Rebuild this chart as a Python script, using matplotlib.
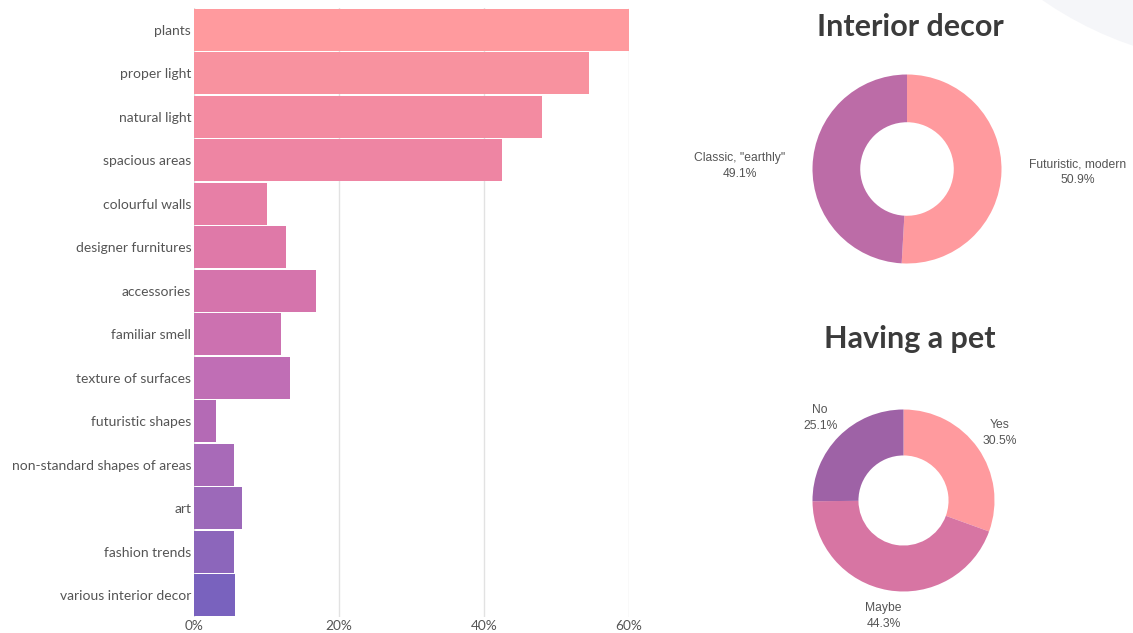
import matplotlib
matplotlib.use("Agg")
import matplotlib.pyplot as plt
import numpy as np
from matplotlib.patches import Ellipse

# ---------------- data ----------------
categories = ["plants", "proper light", "natural light", "spacious areas",
              "colourful walls", "designer furnitures", "accessories",
              "familiar smell", "texture of surfaces", "futuristic shapes",
              "non-standard shapes of areas", "art", "fashion trends",
              "various interior decor"]
values = [60.0, 54.5, 48.0, 42.5, 10.1, 12.7, 16.8, 12.0, 13.2, 3.0, 5.5, 6.6, 5.5, 5.7]
xticks = [0, 20, 40, 60]
xtick_labels = ["0%", "20%", "40%", "60%"]

decor_labels = ["Futuristic, modern", "Classic, \"earthly\""]
decor_values = [50.9, 49.1]

pet_labels = ["Yes", "Maybe", "No"]
pet_values = [30.5, 44.3, 25.1]

# ---------------- style ----------------
bar_colors = ["#FF9A9E", "#F8929F", "#F38BA1", "#EE85A3", "#E77FA6", "#DF79A8",
              "#D574AC", "#CC71B0", "#C06EB5", "#B46AB5", "#A86AB8", "#9C69B9",
              "#8C66BB", "#7962BE"]
decor_colors = ["#FF9A9E", "#BC6CA7"]
pet_colors = ["#FF9A9E", "#D775A3", "#9E62A6"]
text_col = "#555555"
title_col = "#3b3b3b"

W, H = 1133, 633
fig = plt.figure(figsize=(W / 100, H / 100), dpi=100)
fig.patch.set_facecolor("white")

# faint background decoration top-right
fig.patches.append(Ellipse((1250 / W, (H + 300) / H), 2 * 365 / W, 2 * 365 / H,
                           transform=fig.transFigure, facecolor="#f5f6f9",
                           edgecolor="none", zorder=0))

# ---------------- bar chart ----------------
def fx(px):
    return px / W

def fy(py):
    return 1 - py / H

ax = fig.add_axes([fx(194), fy(617), fx(629) - fx(194), fy(8) - fy(617)])
ax.set_facecolor("none")
y = np.arange(len(categories))
ax.barh(y, values, height=0.955, color=bar_colors, edgecolor="none", zorder=3)
ax.set_ylim(len(categories) - 0.5, -0.5)
ax.set_xlim(0, 60)
ax.set_xticks(xticks)
ax.set_xticklabels(xtick_labels)
ax.set_yticks(y)
ax.set_yticklabels(categories)
for s in ax.spines.values():
    s.set_visible(False)
ax.tick_params(axis="both", length=0, colors=text_col)
ax.tick_params(axis="y", pad=2, labelsize=10.0)
ax.tick_params(axis="x", pad=2, labelsize=9.8)
for lab in ax.get_xticklabels() + ax.get_yticklabels():
    lab.set_fontfamily("Lato")
ax.xaxis.grid(True, color="#e2e2e2", linewidth=1, zorder=0)
ax.set_axisbelow(True)

# ---------------- donuts ----------------
def donut(cx, cy, r, vals, labels, colors, centered):
    a = fig.add_axes([fx(cx - r), fy(cy + r), 2 * r / W, 2 * r / H])
    wedges, _ = a.pie(vals, colors=colors, startangle=90, counterclock=False,
                      wedgeprops=dict(width=0.505, edgecolor="none", linewidth=0))
    a.set_xlim(-1, 1)
    a.set_ylim(-1, 1)
    a.set_aspect("auto")
    a.axis("off")
    for w, lab, v in zip(wedges, labels, vals):
        ang = np.deg2rad((w.theta1 + w.theta2) / 2)
        d = 1.29
        x, yy = d * np.cos(ang), d * np.sin(ang)
        if centered:
            ha = "center"
        else:
            ha = "left" if x > 0 else "right"
        a.text(x, yy, f"{lab}\n{v:.1f}%", ha=ha, va="center", multialignment="center",
               fontsize=8.7, color=text_col, family="Liberation Sans",
               linespacing=1.45, clip_on=False)
    return a

donut(907, 169, 94.5, decor_values, decor_labels, decor_colors, centered=False)
donut(903.5, 500.5, 91, pet_values, pet_labels, pet_colors, centered=True)

fig.text(fx(910), fy(27), "Interior decor", ha="center", va="center",
         fontsize=22, fontweight="bold", family="Lato", color=title_col)
fig.text(fx(910), fy(339), "Having a pet", ha="center", va="center",
         fontsize=22, fontweight="bold", family="Lato", color=title_col)

fig.savefig("out.png", dpi=100, facecolor="white")
